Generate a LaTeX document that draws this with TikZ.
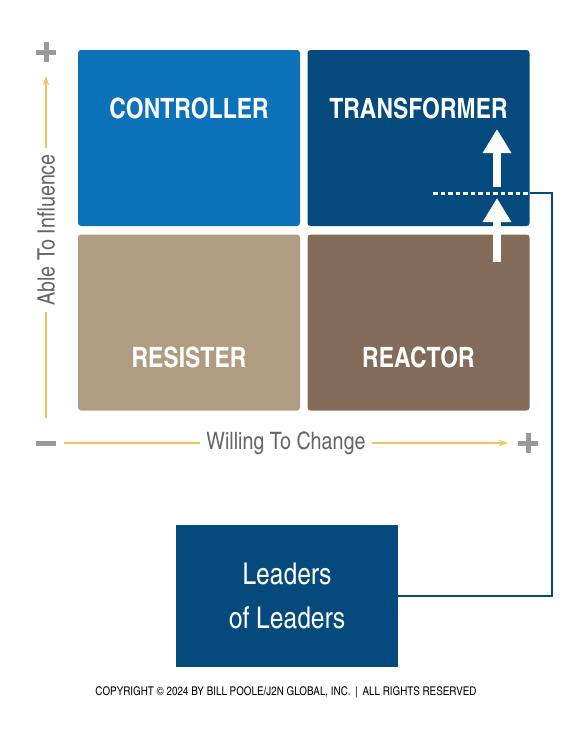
\documentclass[tikz,border=0pt]{standalone}
\usepackage{fontspec}
\setmainfont{texgyreheroscn}[Extension=.otf, UprightFont=*-regular, BoldFont=*-bold]
\usepackage{xcolor}
\definecolor{CtrlBlue}{HTML}{0B72BA}
\definecolor{DeepNavy}{HTML}{054A7D}
\definecolor{SandTan}{HTML}{B09C81}
\definecolor{Umber}{HTML}{826B59}
\definecolor{AxisGold}{HTML}{F5C15C}
\definecolor{SignGray}{HTML}{999999}
\definecolor{LabelGray}{HTML}{666666}
\usepackage{tikz}
\usetikzlibrary{calc, arrows.meta, positioning}

\tikzset{
  quad/.style={rounded corners=3pt, minimum width=222pt, minimum height=176pt, inner sep=0pt},
  quadlabel/.style={text=white, font=\bfseries\fontsize{28}{30}\selectfont},
  axisline/.style={AxisGold, line width=1.3pt, -{Stealth[length=9pt,width=6pt]}},
  axislabel/.style={fill=white, text=LabelGray, inner xsep=6pt, font=\fontsize{24}{26}\selectfont},
  signbar/.style={SignGray, line width=5pt},
  liftarrow/.style={white, line width=8pt, -{Triangle[width=27pt,length=24pt]}},
}

\begin{document}
\begin{tikzpicture}[x=1pt, y=-1pt]
  \useasboundingbox (0,0) rectangle (576,731);

  % quadrants
  \node[quad, fill=CtrlBlue] (controller) at (189,138) {};
  \node[quad, fill=DeepNavy] (transformer) at (418.5,138) {};
  \node[quad, fill=SandTan] (resister) at (189,322.5) {};
  \node[quad, fill=Umber] (reactor) at (418.5,322.5) {};

  \node[quadlabel] (ctrltext) at (189,108) {CONTROLLER};
  \node[quadlabel] (transtext) at (418.5,108) {TRANSFORMER};
  \node[quadlabel] (resitext) at (189,357) {RESISTER};
  \node[quadlabel] (reacttext) at (418.5,357) {REACTOR};

  % axes
  \coordinate (vplus) at (46,52);
  \coordinate (origin) at (46,443);
  \coordinate (hplus) at (528,443);
  \draw[signbar] ([xshift=-10pt]vplus) -- ([xshift=10pt]vplus)
                 ([yshift=-10pt]vplus) -- ([yshift=10pt]vplus);
  \draw[signbar] ([xshift=-10pt]hplus) -- ([xshift=10pt]hplus)
                 ([yshift=-10pt]hplus) -- ([yshift=10pt]hplus);
  \draw[signbar] ([xshift=-10pt]origin) -- ([xshift=10pt]origin);
  \draw[axisline] ([yshift=25pt]origin) -- ([yshift=-24pt]vplus)
    node[axislabel, pos=0.55, rotate=90] (ytext) {Able To Influence};
  \draw[axisline] ([xshift=18pt]origin) -- ([xshift=-20pt]hplus)
    node[axislabel, midway] (xtext) {Willing To Change};

  % lift arrows and threshold
  \coordinate (dotL) at (433,193);
  \coordinate (dotR) at (530,193);
  \draw[white, line width=3pt, dash pattern=on 4.5pt off 3pt] (dotL) -- (dotR);
  \draw[liftarrow] (497,187) -- (497,129);
  \draw[liftarrow] (497,262) -- (497,198);

  % leaders box
  \node[fill=DeepNavy, minimum width=222pt, minimum height=142pt, text=white,
        align=center, font=\fontsize{30}{44}\selectfont] (leaders) at (287,596)
        {Leaders\\of Leaders};
  \draw[DeepNavy, line width=1.6pt] (leaders.east) -| ([xshift=22pt]dotR) -- (dotR);

  \node[font=\fontsize{12}{14}\selectfont] (copyright) at (286,692)
    {COPYRIGHT © 2024 BY BILL POOLE/J2N GLOBAL, INC. \,|\, ALL RIGHTS RESERVED};
\end{tikzpicture}
\end{document}
